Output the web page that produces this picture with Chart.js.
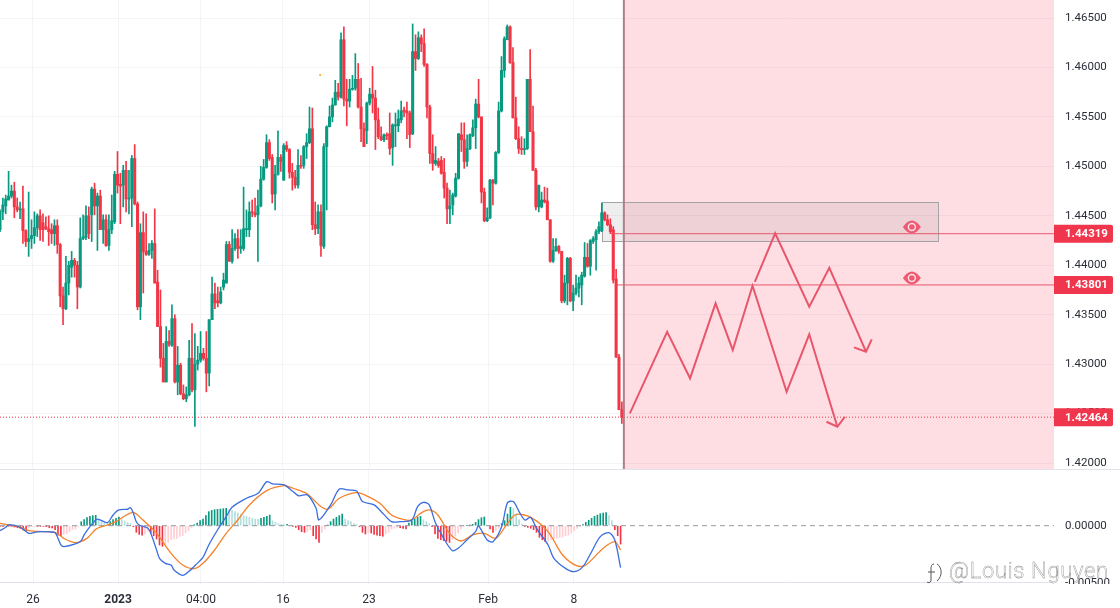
<!DOCTYPE html>
<html><head><meta charset="utf-8">
<style>
html,body{margin:0;padding:0;background:#fff;width:1120px;height:608px;overflow:hidden}
canvas{position:absolute;left:0;display:block}
#c1{top:0}#c2{top:470px}
#wm{position:absolute;left:949px;top:558px;font:300 22px Roboto,sans-serif;color:#fff;-webkit-text-stroke:.35px #777;white-space:nowrap;letter-spacing:.65px}
#logo{position:absolute;left:925px;top:561px}
</style>
<script src="https://cdn.jsdelivr.net/npm/chart.js@4/dist/chart.umd.min.js"></script>
</head><body>
<canvas id="c1" width="1120" height="470"></canvas>
<canvas id="c2" width="1120" height="138"></canvas>
<svg id="logo" width="20" height="24" viewBox="0 0 20 24" fill="none" stroke="#555" stroke-width="1"><path d="M9 3C6 3 6 6 6 9V20M3 11H10M12 3C17 6 18 15 12 20M6 20C5 22 3 22 2 21"/></svg>
<div id="wm">@Louis Nguyen</div>
<script>
const opens=[1.4436,1.4454,1.4460,1.4466,1.4470,1.4475,1.4459,1.4456,1.4457,1.4435,
1.4424,1.4427,1.4430,1.4438,1.4450,1.4443,1.4439,1.4437,1.4436,1.4432,
1.4440,1.4421,1.4369,1.4356,1.4382,1.4398,1.4405,1.4400,1.4378,1.4427,
1.4428,1.4450,1.4451,1.4477,1.4460,1.4470,1.4436,1.4446,1.4420,1.4436,
1.4444,1.4492,1.4482,1.4481,1.4496,1.4467,1.4468,1.4508,1.4462,1.4358,
1.4433,1.4414,1.4411,1.4415,1.4422,1.4383,1.4338,1.4306,1.4282,1.4323,
1.4319,1.4346,1.4282,1.4299,1.4270,1.4265,1.4269,1.4306,1.4274,1.4300,
1.4304,1.4311,1.4306,1.4291,1.4345,1.4371,1.4364,1.4362,
1.4378,1.4382,1.4421,1.4404,1.4417,1.4427,1.4417,1.4417,1.4436,1.4436,
1.4454,1.4453,1.4451,1.4460,1.4487,1.4499,1.4524,1.4509,1.4472,1.4492,
1.4509,1.4486,1.4521,1.4517,1.4494,1.4489,1.4481,1.4501,1.4501,1.4520,
1.4524,1.4538,1.4441,1.4437,1.4454,1.4419,1.4520,1.4540,1.4550,1.4562,
1.4575,1.4570,1.4628,1.4568,1.4566,1.4578,1.4579,1.4588,1.4560,1.4538,
1.4536,1.4564,1.4573,1.4569,1.4547,1.4530,1.4527,1.4532,1.4533,1.4519,
1.4541,1.4541,1.4547,1.4557,1.4556,1.4554,1.4533,1.4616,1.4609,1.4630,
1.4624,1.4603,1.4560,1.4513,1.4503,1.4505,1.4506,1.4494,1.4478,1.4457,
1.4461,1.4470,1.4488,1.4532,1.4527,1.4505,1.4518,1.4531,1.4539,1.4563,
1.4550,1.4474,1.4445,1.4448,1.4486,1.4483,1.4514,1.4556,1.4597,1.4628,
1.4641,1.4605,1.4549,1.4528,1.4518,1.4517,1.4518,1.4588,1.4535,1.4496,
1.4459,1.4459,1.4466,1.4465,1.4446,1.4404,1.4415,1.4419,1.4414,1.4364,
1.4382,1.4407,1.4364,1.4372,1.4377,1.4380,1.4389,1.4408,1.4399,1.4424,
1.4426,1.4434,1.4435,1.4453,1.4446,1.4441,1.4436,1.4386,1.4307,1.4254];
const closes=[1.4454,1.4461,1.4467,1.4470,1.4475,1.4459,1.4456,1.4457,1.4435,1.4424,
1.4427,1.4430,1.4438,1.4450,1.4436,1.4436,1.4437,1.4434,1.4432,1.4440,
1.4421,1.4369,1.4356,1.4382,1.4400,1.4405,1.4400,1.4378,1.4427,1.4429,
1.4450,1.4432,1.4477,1.4460,1.4470,1.4436,1.4446,1.4420,1.4436,1.4445,
1.4492,1.4481,1.4480,1.4496,1.4467,1.4468,1.4508,1.4462,1.4358,1.4433,
1.4414,1.4411,1.4415,1.4422,1.4382,1.4338,1.4306,1.4282,1.4323,1.4320,
1.4346,1.4282,1.4299,1.4270,1.4265,1.4269,1.4306,1.4274,1.4300,1.4304,
1.4311,1.4306,1.4291,1.4345,1.4371,1.4362,1.4362,1.4373,
1.4385,1.4421,1.4404,1.4417,1.4427,1.4417,1.4419,1.4437,1.4437,1.4454,
1.4453,1.4451,1.4460,1.4487,1.4499,1.4524,1.4508,1.4472,1.4492,1.4509,
1.4505,1.4521,1.4517,1.4494,1.4489,1.4481,1.4501,1.4500,1.4520,1.4524,
1.4538,1.4441,1.4437,1.4454,1.4420,1.4520,1.4540,1.4550,1.4562,1.4575,
1.4570,1.4628,1.4568,1.4566,1.4578,1.4579,1.4588,1.4560,1.4538,1.4520,
1.4564,1.4573,1.4569,1.4547,1.4530,1.4527,1.4532,1.4531,1.4518,1.4542,
1.4542,1.4548,1.4556,1.4555,1.4554,1.4532,1.4616,1.4609,1.4630,1.4624,
1.4603,1.4560,1.4513,1.4503,1.4506,1.4501,1.4493,1.4478,1.4457,1.4460,
1.4471,1.4488,1.4533,1.4527,1.4505,1.4518,1.4532,1.4539,1.4563,1.4550,
1.4474,1.4445,1.4448,1.4486,1.4483,1.4514,1.4556,1.4597,1.4629,1.4641,
1.4605,1.4549,1.4528,1.4518,1.4517,1.4518,1.4588,1.4535,1.4496,1.4459,
1.4481,1.4466,1.4464,1.4446,1.4404,1.4415,1.4419,1.4414,1.4364,1.4382,
1.4407,1.4364,1.4372,1.4377,1.4382,1.4390,1.4408,1.4399,1.4425,1.4427,
1.4434,1.4439,1.4453,1.4446,1.4441,1.4434,1.4385,1.4307,1.4254,1.4246];
const highs=[1.4456,1.4468,1.4471,1.4495,1.4481,1.4484,1.4468,1.4464,1.4480,1.4436,
1.4474,1.4446,1.4454,1.4452,1.4456,1.4452,1.4449,1.4450,1.4442,1.4446,
1.4446,1.4422,1.4378,1.4409,1.4404,1.4414,1.4407,1.4404,1.4448,1.4451,
1.4460,1.4459,1.4479,1.4483,1.4473,1.4476,1.4451,1.4451,1.4451,1.4471,
1.4495,1.4515,1.4493,1.4501,1.4505,1.4496,1.4511,1.4522,1.4464,1.4442,
1.4454,1.4452,1.4422,1.4425,1.4457,1.4395,1.4375,1.4321,1.4338,1.4334,
1.4360,1.4350,1.4318,1.4301,1.4279,1.4277,1.4324,1.4341,1.4331,1.4318,
1.4333,1.4316,1.4333,1.4345,1.4388,1.4382,1.4378,1.4378,
1.4392,1.4424,1.4424,1.4436,1.4432,1.4436,1.4436,1.4479,1.4456,1.4464,
1.4466,1.4468,1.4476,1.4500,1.4507,1.4532,1.4527,1.4512,1.4501,1.4536,
1.4512,1.4523,1.4525,1.4518,1.4503,1.4496,1.4517,1.4511,1.4521,1.4533,
1.4560,1.4559,1.4464,1.4461,1.4461,1.4523,1.4541,1.4561,1.4569,1.4587,
1.4584,1.4635,1.4641,1.4588,1.4588,1.4592,1.4614,1.4604,1.4589,1.4544,
1.4565,1.4579,1.4601,1.4577,1.4559,1.4540,1.4533,1.4534,1.4554,1.4543,
1.4554,1.4557,1.4566,1.4560,1.4565,1.4556,1.4644,1.4633,1.4636,1.4633,
1.4639,1.4604,1.4562,1.4532,1.4520,1.4508,1.4510,1.4508,1.4483,1.4476,
1.4473,1.4493,1.4533,1.4544,1.4544,1.4532,1.4533,1.4547,1.4568,1.4588,
1.4550,1.4478,1.4458,1.4487,1.4487,1.4515,1.4565,1.4611,1.4631,1.4643,
1.4642,1.4620,1.4570,1.4540,1.4530,1.4528,1.4588,1.4618,1.4561,1.4498,
1.4481,1.4474,1.4479,1.4478,1.4446,1.4427,1.4427,1.4420,1.4414,1.4390,
1.4408,1.4408,1.4380,1.4390,1.4388,1.4393,1.4423,1.4422,1.4426,1.4429,
1.4436,1.4444,1.4463,1.4454,1.4451,1.4447,1.4439,1.4396,1.4310,1.4262];
const lows=[1.4434,1.4446,1.4452,1.4466,1.4468,1.4448,1.4454,1.4447,1.4422,1.4419,
1.4409,1.4417,1.4422,1.4429,1.4425,1.4424,1.4436,1.4420,1.4422,1.4420,
1.4412,1.4358,1.4340,1.4355,1.4370,1.4388,1.4388,1.4356,1.4377,1.4426,
1.4426,1.4427,1.4424,1.4451,1.4415,1.4436,1.4422,1.4419,1.4415,1.4432,
1.4442,1.4473,1.4442,1.4459,1.4454,1.4452,1.4439,1.4461,1.4355,1.4345,
1.4372,1.4410,1.4410,1.4407,1.4382,1.4338,1.4297,1.4282,1.4282,1.4318,
1.4318,1.4281,1.4269,1.4269,1.4264,1.4262,1.4268,1.4272,1.4237,1.4294,
1.4302,1.4304,1.4272,1.4278,1.4345,1.4356,1.4358,1.4361,
1.4375,1.4382,1.4404,1.4402,1.4415,1.4407,1.4412,1.4415,1.4429,1.4429,
1.4449,1.4449,1.4404,1.4459,1.4486,1.4498,1.4506,1.4463,1.4456,1.4491,
1.4495,1.4486,1.4515,1.4488,1.4476,1.4478,1.4478,1.4498,1.4498,1.4508,
1.4523,1.4436,1.4431,1.4432,1.4409,1.4417,1.4456,1.4540,1.4545,1.4562,
1.4567,1.4569,1.4561,1.4541,1.4560,1.4577,1.4577,1.4559,1.4525,1.4520,
1.4523,1.4562,1.4554,1.4517,1.4528,1.4526,1.4525,1.4527,1.4512,1.4501,
1.4520,1.4535,1.4544,1.4550,1.4528,1.4519,1.4532,1.4597,1.4608,1.4616,
1.4601,1.4549,1.4503,1.4496,1.4501,1.4499,1.4492,1.4468,1.4442,1.4442,
1.4451,1.4469,1.4487,1.4515,1.4498,1.4500,1.4517,1.4530,1.4518,1.4549,
1.4463,1.4444,1.4444,1.4447,1.4461,1.4482,1.4513,1.4555,1.4590,1.4628,
1.4604,1.4549,1.4527,1.4513,1.4512,1.4512,1.4517,1.4535,1.4496,1.4456,
1.4454,1.4458,1.4463,1.4446,1.4403,1.4403,1.4414,1.4412,1.4362,1.4362,
1.4360,1.4363,1.4354,1.4370,1.4368,1.4360,1.4388,1.4398,1.4390,1.4422,
1.4395,1.4432,1.4434,1.4445,1.4440,1.4432,1.4382,1.4307,1.4254,1.4240];

const histogram=[-0.00006,-0.00006,-0.00003,-0.00003,-0.00006,-0.00012,-0.00018,-0.00023,-0.00038,-0.00044,
-0.00018,-0.00009,-0.00006,-0.00006,-0.00006,-0.00006,-0.00009,-0.00018,-0.00020,-0.00035,
-0.00082,-0.00088,-0.00076,-0.00070,-0.00053,-0.00035,-0.00029,-0.00009,0.00035,0.00053,
0.00070,0.00082,0.00088,0.00091,0.00053,0.00035,0.00029,0.00023,0.00035,0.00053,
0.00064,0.00076,0.00053,0.00041,0.00029,0.00018,-0.00009,-0.00058,-0.00076,-0.00082,
-0.00073,-0.00047,-0.00064,-0.00088,-0.00117,-0.00169,-0.00181,-0.00161,-0.00146,-0.00123,
-0.00117,-0.00111,-0.00093,-0.00088,-0.00064,-0.00044,-0.00015,0.00009,0.00023,0.00044,
0.00058,0.00088,0.00123,0.00134,0.00140,0.00143,0.00146,0.00149,0.00152,0.00140,
0.00134,0.00123,0.00111,0.00102,0.00088,0.00082,0.00073,0.00064,0.00058,0.00055,
0.00064,0.00073,0.00082,0.00093,0.00044,0.00029,0.00018,0.00012,0.00009,0.00012,
0.00003,-0.00006,-0.00015,-0.00035,-0.00053,-0.00058,-0.00053,-0.00035,-0.00088,-0.00117,
-0.00146,-0.00058,-0.00029,0.00006,0.00035,0.00058,0.00073,0.00088,0.00102,0.00058,
0.00044,0.00035,0.00018,0.00012,-0.00009,-0.00058,-0.00073,-0.00064,-0.00064,-0.00076,
-0.00082,-0.00088,-0.00093,-0.00073,-0.00058,-0.00029,-0.00023,-0.00018,-0.00018,-0.00023,
-0.00029,0.00023,0.00044,0.00058,0.00076,0.00082,0.00053,0.00035,0.00018,-0.00009,
-0.00073,-0.00111,-0.00123,-0.00131,-0.00137,-0.00146,-0.00117,-0.00093,-0.00064,-0.00029,
-0.00006,0,0.00006,0.00012,0.00029,0.00053,0.00070,0.00076,0,-0.00029,
-0.00058,-0.00044,-0.00023,0.00018,0.00044,0.00102,0.00161,0.00152,0.00102,0.00053,
0.00015,-0.00006,-0.00015,-0.00023,-0.00035,-0.00058,-0.00102,-0.00123,-0.00140,-0.00134,
-0.00123,-0.00117,-0.00111,-0.00105,-0.00099,-0.00088,-0.00082,-0.00064,-0.00044,-0.00023,
-0.00003,0.00009,0.00029,0.00047,0.00064,0.00082,0.00093,0.00105,0.00111,0.00114,
0.00088,0.00044,-0.00035,-0.00088,-0.00161];
const macdIdx=[0,2,3,6,8,10,12,14,17,19,20,21,22,26,28,29,31,33,34,37,39,41,44,45,46,47,48,51,52,54,55,57,59,60,63,65,68,70,72,75,78,80,85,89,92,94,98,101,103,106,109,110,114,117,120,123,125,129,132,135,138,142,144,146,148,150,153,156,158,161,164,165,168,170,173,175,177,179,181,183,185,189,191,195,198,201,204,207,210,212,214];
const macdLine=[-0.00043,-0.00014,0.00006,-0.00003,-0.00032,-0.00067,-0.00058,-0.00052,-0.00055,-0.00061,-0.00111,-0.00169,-0.00184,-0.00160,-0.00131,-0.00081,-0.00008,0.00050,0.00056,0.00027,0.00094,0.00138,0.00144,0.00158,0.00108,0.00035,0.00006,-0.00023,-0.00067,-0.00213,-0.00286,-0.00330,-0.00345,-0.00388,-0.00435,-0.00403,-0.00330,-0.00277,-0.00169,-0.00038,0.00079,0.00161,0.00240,0.00284,0.00386,0.00366,0.00357,0.00299,0.00261,0.00270,0.00152,0.00050,0.00182,0.00322,0.00313,0.00304,0.00211,0.00182,0.00109,0.00035,0.00035,0.00050,0.00167,0.00205,0.00182,0.00035,-0.00111,-0.00219,-0.00198,-0.00125,-0.00052,-0.00003,-0.00125,-0.00140,-0.00008,0.00202,0.00211,0.00123,0.00050,0.00073,-0.00023,-0.00169,-0.00286,-0.00374,-0.00403,-0.00359,-0.00228,-0.00096,-0.00061,-0.00125,-0.00368];
const signalIdx=[0,3,7,10,15,19,22,26,30,33,37,40,43,46,49,54,59,63,67,70,74,78,82,86,92,98,101,106,110,113,117,123,127,131,135,139,142,145,148,151,155,159,163,167,171,175,178,183,189,194,199,202,208,212,214];
const signalLine=[0.00021,0.00006,-0.00014,-0.00043,-0.00052,-0.00058,-0.00111,-0.00149,-0.00111,-0.00032,0.00006,0.00035,0.00085,0.00117,0.00056,-0.00067,-0.00242,-0.00345,-0.00377,-0.00330,-0.00213,-0.00067,0.00050,0.00182,0.00307,0.00351,0.00328,0.00278,0.00182,0.00144,0.00240,0.00290,0.00255,0.00196,0.00094,0.00056,0.00050,0.00108,0.00138,0.00094,-0.00067,-0.00134,-0.00081,-0.00067,-0.00111,0.00021,0.00099,0.00073,-0.00052,-0.00257,-0.00353,-0.00345,-0.00198,-0.00140,-0.00213];

const priceTicks=[1.465,1.46,1.455,1.45,1.445,1.44,1.435,1.43,1.425,1.42];
const macdTicks=[0,-0.005];
const timeLabels=["26","2023","04:00","16","23","Feb","8"];
const timeIdxMain=[11.5,41.2,70.1,98.7,128.8,170.3,200.3];
const timeIdxMacd=[11.4,40.7,69.3,97.6,127.2,168.3,197.9];
const priceTags=[1.44319,1.43801,1.42464];
const levelStarts=[213.2,215.3];
const zoneStart=217.7;
const boxCorners=[210.0,327.3,1.44639,1.44245];
const eyeIdx=[318.2,318.2];
const eyePrices=[1.44387,1.43871];
const zigLowIdx=[219.8,232.8,240.8,249.7,255.7,262.6,274.5,282.4,292.2];
const zigLowPrice=[1.42503,1.43328,1.42857,1.43615,1.43143,1.43793,1.42721,1.43302,1.42367];
const headLowIdx=[288.4,292.2,294.8];
const headLowPrice=[1.42418,1.42367,1.42468];
const zigHighIdx=[263.4,270.5,282.4,289.4,302.2];
const zigHighPrice=[1.43833,1.44323,1.43581,1.43975,1.43126];
const headHighIdx=[298.0,302.2,304.2];
const headHighPrice=[1.43170,1.43126,1.43251];
const dotIdx=[111.7];
const dotPrice=[1.45924];

const mainMax=367.8, macdMax=363.45;
const GREEN="#089981",RED="#f23645",GRID="#f3f4f8",LINE="#e8566c";
const FONT="Roboto,sans-serif";
const zip=(a,b)=>a.map((v,i)=>({x:v,y:b[i]}));
const cols=opens.map((o,i)=>closes[i]>=o?GREEN:RED);
const lineDs=(data,color,w,extra)=>Object.assign({type:'line',data,borderColor:color,borderWidth:w,pointRadius:0,fill:false,order:0},extra||{});

const annot={id:'annot',
 beforeDatasetsDraw(ch){
  const {ctx,chartArea:a,scales:{x,y}}=ch;
  const zx=x.getPixelForValue(zoneStart);
  ctx.save();
  ctx.fillStyle="rgba(255,60,90,0.17)";ctx.fillRect(zx,a.top,a.right-zx,a.bottom-a.top-1);
  const bx=x.getPixelForValue(boxCorners[0]),bw=x.getPixelForValue(boxCorners[1])-bx;
  const by=y.getPixelForValue(boxCorners[2]),bh=y.getPixelForValue(boxCorners[3])-by;
  ctx.fillStyle="rgba(120,123,134,0.13)";ctx.fillRect(bx,by,bw,bh);
  ctx.strokeStyle="#a3a3aa";ctx.lineWidth=1;ctx.strokeRect(Math.round(bx)+.5,Math.round(by)+.5,Math.round(bw),Math.round(bh));
  ctx.restore();
 },
 afterDatasetsDraw(ch){
  const {ctx,chartArea:a,scales:{x,y}}=ch;
  const zx=x.getPixelForValue(zoneStart);
  ctx.save();
  ctx.fillStyle="#b07f8b";ctx.fillRect(zx-1,a.top,2,a.bottom-a.top-1);
  eyeIdx.forEach((e,i)=>{
   const ex=x.getPixelForValue(e),ey=y.getPixelForValue(eyePrices[i]);
   ctx.fillStyle="#ef5a72";ctx.beginPath();ctx.moveTo(ex-9,ey);
   ctx.quadraticCurveTo(ex,ey-13,ex+9,ey);ctx.quadraticCurveTo(ex,ey+13,ex-9,ey);ctx.fill();
   ctx.fillStyle="#fde4e8";ctx.beginPath();ctx.arc(ex,ey,4.2,0,7);ctx.fill();
   ctx.fillStyle="#ef5a72";ctx.beginPath();ctx.arc(ex,ey,2.8,0,7);ctx.fill();
  });
  ctx.restore();
 },
 afterDraw(ch){
  const {ctx,chartArea:a,scales:{y}}=ch;
  ctx.save();
  ctx.fillStyle="#e0e3eb";ctx.fillRect(0,a.bottom-1,1120,1);
  priceTags.forEach(p=>{
   const py=y.getPixelForValue(p);
   ctx.fillStyle="#f0364c";ctx.beginPath();ctx.roundRect(1054,py-9,59,18,[0,2,2,0]);ctx.fill();
   ctx.fillStyle="#fff";ctx.font="bold 11.5px "+FONT;ctx.textAlign="left";ctx.textBaseline="middle";
   ctx.fillText(p.toFixed(5),1065,py+.5);
  });
  ctx.restore();
 }};

const clipLabel={id:'clipLabel',afterDraw(ch){ch.ctx.save();ch.ctx.fillStyle="#fff";ch.ctx.fillRect(1056,114,64,24);ch.ctx.restore();}};

function xScale(max,ticksAt,showLabels){
 return {type:'linear',min:0,max,offset:false,
  afterBuildTicks(s){s.ticks=ticksAt.map(v=>({value:v}));},
  afterFit(s){s.height=showLabels?24:0;},
  border:{display:false},
  grid:{color:GRID,lineWidth:1,drawTicks:false,offset:false},
  ticks:{display:showLabels,autoSkip:false,maxRotation:0,padding:9,color:"#2a2e39",
   callback:(v,i)=>timeLabels[i],
   font:c=>({family:FONT,size:12,weight:timeLabels[c.index]==="2023"?"bold":"normal"})}};
}
function yScale(min,max,tks,gridColor){
 return {type:'linear',position:'right',min,max,
  afterBuildTicks(s){s.ticks=tks.map(v=>({value:v}));},
  afterFit(s){s.width=66;s.paddingTop=0;s.paddingBottom=0;},
  border:{display:false},
  grid:{color:gridColor,lineWidth:1,drawTicks:false},
  ticks:{padding:11,autoSkip:false,color:"#2a2e39",font:{family:FONT,size:11.5},callback:v=>v.toFixed(5)}};
}
const base={responsive:false,animation:false,events:[],layout:{padding:0,autoPadding:false},
 plugins:{legend:{display:false},tooltip:{enabled:false}}};

new Chart(document.getElementById('c1'),{type:'bar',
 data:{datasets:[
  lineDs(zip(zigLowIdx,zigLowPrice),LINE,2,{borderJoinStyle:'miter'}),
  lineDs(zip(headLowIdx,headLowPrice),LINE,2),
  lineDs(zip(zigHighIdx,zigHighPrice),LINE,2,{borderJoinStyle:'miter'}),
  lineDs(zip(headHighIdx,headHighPrice),LINE,2),
  lineDs([{x:levelStarts[0],y:priceTags[0]},{x:mainMax,y:priceTags[0]}],LINE,1),
  lineDs([{x:levelStarts[1],y:priceTags[1]},{x:mainMax,y:priceTags[1]}],LINE,1),
  lineDs([{x:0,y:priceTags[2]},{x:mainMax,y:priceTags[2]}],RED,1,{borderDash:[1,2]}),
  {type:'line',data:zip(dotIdx,dotPrice),showLine:false,pointRadius:1,pointBorderWidth:0,pointBackgroundColor:"#f5a623",order:0},
  {type:'bar',data:opens.map((o,i)=>({x:i,y:[o,closes[i]]})),backgroundColor:cols,barThickness:2.4,grouped:false,order:1},
  {type:'bar',data:lows.map((l,i)=>({x:i,y:[l,highs[i]]})),backgroundColor:cols,barThickness:1,grouped:false,order:2}
 ]},
 options:Object.assign({},base,{scales:{x:xScale(mainMax,timeIdxMain,false),y:yScale(1.4193,1.46682,priceTicks,GRID)}}),
 plugins:[annot]});

new Chart(document.getElementById('c2'),{type:'bar',
 data:{datasets:[
  lineDs(zip(macdIdx,macdLine),"#3a6ee0",1.3,{tension:.3}),
  lineDs(zip(signalIdx,signalLine),"#f5822a",1.3,{tension:.3}),
  lineDs([{x:0,y:0},{x:macdMax,y:0}],"#9598a1",1,{borderDash:[5,4],order:1}),
  {type:'bar',data:histogram.map((v,i)=>({x:i,y:v})),barThickness:1,grouped:false,order:2,
   backgroundColor:c=>{
    const i=c.dataIndex,v=histogram[i],p=i?histogram[i-1]:0;
    return v>=0?(v>=p?"#089981":"#b2dfdb"):(v<=p?"#f23645":"#ffcdd2");}}
 ]},
 options:Object.assign({},base,{scales:{x:xScale(macdMax,timeIdxMacd,true),
  y:yScale(-0.00511,0.00488,macdTicks,c=>c.tick&&c.tick.value<0?"#e0e3eb":"rgba(0,0,0,0)")}}),
 plugins:[clipLabel]});
</script>
</body></html>
